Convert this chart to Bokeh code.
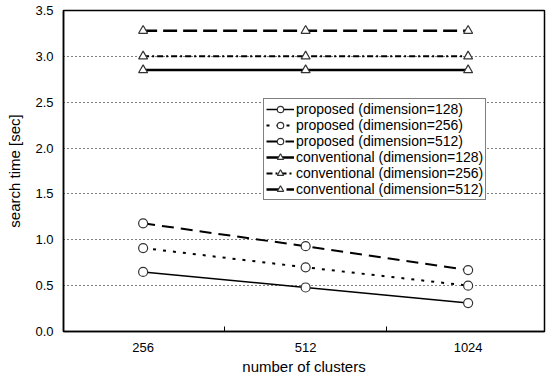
from bokeh.plotting import figure
from bokeh.models import Range1d, FixedTicker, PrintfTickFormatter, Legend, LegendItem
from bokeh.embed import file_html
from bokeh.resources import INLINE

clusters = ["256", "512", "1024"]
proposed_128 = [0.65, 0.48, 0.31]
proposed_256 = [0.91, 0.70, 0.50]
proposed_512 = [1.18, 0.93, 0.67]
conventional_128 = [2.85, 2.85, 2.85]
conventional_256 = [3.00, 3.00, 3.00]
conventional_512 = [3.28, 3.28, 3.28]
y_ticks = [0.0, 0.5, 1.0, 1.5, 2.0, 2.5, 3.0, 3.5]

FONT = "Liberation Sans"
xs = list(range(len(clusters)))

p = figure(width=554, height=378, output_backend="svg", toolbar_location=None,
           x_range=Range1d(-0.49, 2.47), y_range=Range1d(0, 3.5),
           min_border_left=63, min_border_right=10, min_border_top=10, min_border_bottom=47)
p.background_fill_color = "white"
p.border_fill_color = "white"
p.outline_line_color = "black"
p.outline_line_width = 1.5

p.xaxis.ticker = FixedTicker(ticks=xs, minor_ticks=[0.5, 1.5])
p.xaxis.major_label_overrides = {i: c for i, c in enumerate(clusters)}
p.xaxis.major_tick_in = 0
p.xaxis.major_tick_out = 0
p.xaxis.minor_tick_in = 5
p.xaxis.minor_tick_out = 0
p.xaxis.minor_tick_line_color = "black"
p.xaxis.axis_label = "number of clusters"

p.yaxis.ticker = FixedTicker(ticks=y_ticks)
p.yaxis.formatter = PrintfTickFormatter(format="%.1f")
p.yaxis.major_tick_in = 0
p.yaxis.major_tick_out = 0
p.yaxis.minor_tick_line_color = None
p.yaxis.axis_label = "search time [sec]"

for ax in (p.xaxis, p.yaxis):
    ax.axis_line_color = "black"
    ax.axis_line_width = 1.5
    ax.major_label_text_font = FONT
    ax.major_label_text_font_size = "13px"
    ax.major_label_text_color = "black"
    ax.axis_label_text_font = FONT
    ax.axis_label_text_font_size = "15px"
    ax.axis_label_text_font_style = "normal"
    ax.axis_label_text_color = "black"
p.xaxis.major_label_standoff = 11
p.xaxis.axis_label_standoff = 3
p.yaxis.major_label_standoff = 10
p.yaxis.axis_label_standoff = 9

p.xgrid.grid_line_color = None
p.ygrid.ticker = FixedTicker(ticks=y_ticks)
p.ygrid.grid_line_color = "black"
p.ygrid.grid_line_dash = "1 3"
p.ygrid.grid_line_width = 1

series = [
    ("proposed (dimension=128)", proposed_128, "solid", 1.5, "circle"),
    ("proposed (dimension=256)", proposed_256, "3 7", 2, "circle"),
    ("proposed (dimension=512)", proposed_512, "12 7", 2, "circle"),
    ("conventional (dimension=128)", conventional_128, "solid", 2.5, "triangle"),
    ("conventional (dimension=256)", conventional_256, "6 3 2 3", 2, "triangle"),
    ("conventional (dimension=512)", conventional_512, "14 6", 2.5, "triangle"),
]

items = []
for label, ys, dash, lw, marker in series:
    r1 = p.line(xs, ys, line_color="black", line_width=lw, line_dash=dash)
    r2 = p.scatter(xs, ys, marker=marker, size=9,
                   fill_color="white", line_color="#333333", line_width=1.2)
    items.append(LegendItem(label=label, renderers=[r1, r2]))

legend = Legend(items=items, location=(200, 131))
legend.label_text_font = FONT
legend.label_text_font_size = "14px"
legend.label_text_color = "black"
legend.glyph_width = 28
legend.glyph_height = 16
legend.label_height = 16
legend.label_standoff = 2
legend.spacing = 0
legend.padding = 2
legend.margin = 0
legend.border_line_color = "black"
legend.border_line_width = 1
legend.background_fill_alpha = 1
p.add_layout(legend, "center")

open("out.html", "w").write(file_html(p, INLINE))
